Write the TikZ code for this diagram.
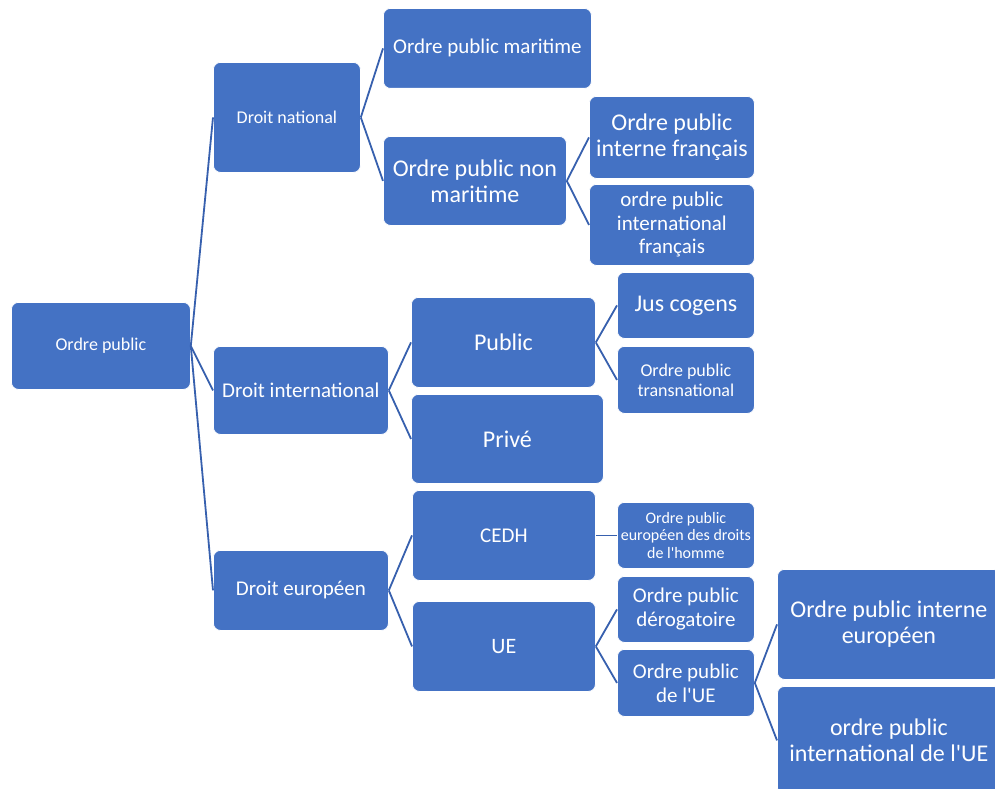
\documentclass[tikz,border=0pt]{standalone}
\usepackage{fontspec}
\newfontfamily\calib{Carlito}
\definecolor{boxblue}{HTML}{4472C4}
\definecolor{linkblue}{HTML}{3760AE}
\newcommand\fsz[2]{\calib\fontsize{#1}{#2}\selectfont}
\tikzset{
  bx/.style={draw=white, line width=0.8pt, fill=boxblue, text=white, rounded corners=7pt,
             align=center, inner sep=2pt, anchor=north west},
  conn/.style={draw=linkblue, line width=1.8pt}
}
\begin{document}
\begin{tikzpicture}[x=1pt,y=-1pt]
\clip (0,0) rectangle (995,789);
\fill[white] (0,0) rectangle (995,789);
% level 0
\node[bx, minimum width=179pt, minimum height=87pt, font=\fsz{18}{20}] (op) at (11,302) {Ordre public};
% level 1
\node[bx, minimum width=147pt, minimum height=110pt, font=\fsz{18}{20}] (dn) at (213,62) {Droit national};
\node[bx, minimum width=175pt, minimum height=88pt, font=\fsz{21}{23}] (di) at (213,346) {Droit international};
\node[bx, minimum width=175pt, minimum height=80pt, font=\fsz{21}{23}] (de) at (213,550) {Droit européen};
% level 2
\node[bx, minimum width=208pt, minimum height=80pt, font=\fsz{21}{23}] (opm) at (383,8) {Ordre public maritime};
\node[bx, minimum width=183pt, minimum height=89pt, font=\fsz{24}{26}] (opnm) at (383,136) {Ordre public non\\maritime};
\node[bx, minimum width=184pt, minimum height=90pt, font=\fsz{24}{26}] (pub) at (411,297) {Public};
\node[bx, minimum width=192pt, minimum height=89pt, font=\fsz{24}{26}] (pri) at (411,394) {Privé};
\node[bx, minimum width=183pt, minimum height=90pt, font=\fsz{21}{23}] (cedh) at (412,490) {CEDH};
\node[bx, minimum width=183pt, minimum height=90pt, font=\fsz{22}{24}] (ue) at (412,601) {UE};
% level 3
\node[bx, minimum width=165pt, minimum height=82pt, font=\fsz{24}{26}] (opif) at (589,96) {Ordre public\\interne français};
\node[bx, minimum width=165pt, minimum height=81pt, font=\fsz{21}{23.5}] (opintf) at (589,184) {ordre public\\international\\français};
\node[bx, minimum width=137pt, minimum height=66pt, font=\fsz{24}{26}] (jus) at (617,272) {Jus cogens};
\node[bx, minimum width=137pt, minimum height=67pt, font=\fsz{18}{20}] (tra) at (617,346) {Ordre public\\transnational};
\node[bx, minimum width=137pt, minimum height=66pt, font=\fsz{16}{17.5}] (edh) at (617,502) {Ordre public\\européen des droits\\de l'homme};
\node[bx, minimum width=137pt, minimum height=66pt, font=\fsz{21}{24}] (der) at (617,576) {Ordre public\\dérogatoire};
\node[bx, minimum width=137pt, minimum height=67pt, font=\fsz{21}{24}] (opue) at (617,649) {Ordre public\\de l'UE};
% level 4
\node[bx, minimum width=223pt, minimum height=110pt, font=\fsz{24}{26}] (ie) at (777,569) {Ordre public interne\\européen};
\node[bx, minimum width=223pt, minimum height=108pt, font=\fsz{24}{26}] (iue) at (777,686) {ordre public\\international de l'UE};
% connectors
\draw[conn] (op.east) -- (dn.west);
\draw[conn] (op.east) -- (di.west);
\draw[conn] (op.east) -- (de.west);
\draw[conn] (dn.east) -- (opm.west);
\draw[conn] (dn.east) -- (opnm.west);
\draw[conn] (opnm.east) -- (opif.west);
\draw[conn] (opnm.east) -- (opintf.west);
\draw[conn] (di.east) -- (pub.west);
\draw[conn] (di.east) -- (pri.west);
\draw[conn] (pub.east) -- (jus.west);
\draw[conn] (pub.east) -- (tra.west);
\draw[conn] (de.east) -- (cedh.west);
\draw[conn] (de.east) -- (ue.west);
\draw[conn] (cedh.east) -- (edh.west);
\draw[conn] (ue.east) -- (der.west);
\draw[conn] (ue.east) -- (opue.west);
\draw[conn] (opue.east) -- (ie.west);
\draw[conn] (opue.east) -- (iue.west);
\end{tikzpicture}
\end{document}
